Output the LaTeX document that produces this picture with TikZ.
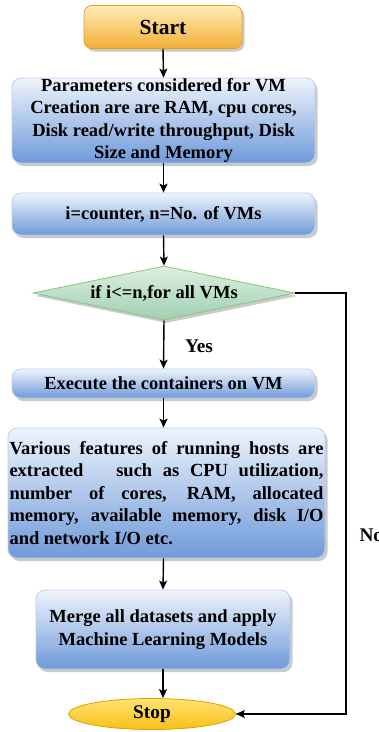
\documentclass[tikz,border=0pt]{standalone}
\usepackage{fontspec}
\setmainfont{Liberation Serif}
\usetikzlibrary{shapes.geometric,shadows,arrows.meta}
\definecolor{bluetop}{HTML}{EEF4FC}
\definecolor{bluemid}{HTML}{B3CBEE}
\definecolor{bluebot}{HTML}{6F9AD9}
\definecolor{blueedge}{HTML}{B9CFEE}
\definecolor{orgtop}{HTML}{FFEDB8}
\definecolor{orgmid}{HTML}{FBCB6A}
\definecolor{orgbot}{HTML}{F4AE35}
\definecolor{orgedge}{HTML}{E49D2A}
\definecolor{grtop}{HTML}{DDF0DE}
\definecolor{grbot}{HTML}{9FCFB4}
\definecolor{gredge}{HTML}{8CC474}
\definecolor{ylwtop}{HTML}{FFE36E}
\definecolor{ylwbot}{HTML}{F6C01A}
\definecolor{ylwedge}{HTML}{D9A300}
\begin{document}
\begin{tikzpicture}[x=1pt,y=-1pt,
  txt/.style={font=\bfseries\fontsize{18.5}{22.6}\selectfont},
  shad/.style={drop shadow={shadow xshift=2.5pt,shadow yshift=-3pt,opacity=0.35,fill=black!60}},
  box/.style={rectangle, rounded corners=9pt, draw=blueedge, line width=0.8pt,
    top color=bluetop, middle color=bluemid, bottom color=bluebot, shad,
    txt, align=center, inner sep=0pt},
  startbox/.style={rectangle, rounded corners=8pt, draw=orgedge, line width=0.8pt,
    top color=orgtop, middle color=orgmid, bottom color=orgbot, shad,
    font=\bfseries\fontsize{21.5}{24}\selectfont, inner sep=0pt},
  dia/.style={diamond, draw=gredge, line width=0.8pt, top color=grtop, bottom color=grbot,
    shad, inner sep=0pt},
  stopell/.style={ellipse, draw=ylwedge, line width=0.8pt, top color=ylwtop, bottom color=ylwbot,
    font=\bfseries\fontsize{19.3}{22}\selectfont, inner sep=0pt},
  arr/.style={-{Stealth[length=9pt,width=8pt,inset=2pt]}, line width=1.4pt, black},
]
\useasboundingbox (0,0) rectangle (379,732);

\node[startbox, minimum width=158pt, minimum height=43pt] (start) at (163,27) {Start};

\node[box, minimum width=303pt, minimum height=85pt] (params) at (163.5,120.5)
  {Parameters considered for VM\\Creation are are RAM, cpu cores,\\Disk read/write throughput, Disk\\Size and Memory};

\node[box, minimum width=303pt, minimum height=42pt] (counter) at (163.5,214)
  {i=counter, n=No. of VMs};

\node[dia, minimum width=262pt, minimum height=54pt] (cond) at (164,293) {};
\node[txt] (condtxt) at (cond) {if i<=n,for all VMs};

\node[txt, font=\bfseries\fontsize{19.3}{22}\selectfont] (yes) at (199,346) {Yes};

\node[box, minimum width=303pt, minimum height=29pt] (exec) at (163.5,383.5)
  {Execute the containers on VM};

\node[box, minimum width=317pt, minimum height=130pt, align=left] (feat) at (166.5,493)
  {\makebox[314pt][s]{Various features of running hosts are}\\
   \makebox[314pt][s]{extracted\hspace{1.2em} such as CPU utilization,}\\
   \makebox[314pt][s]{number of cores, RAM, allocated}\\
   \makebox[314pt][s]{memory, available memory, disk I/O}\\
   and network I/O etc.};

\node[box, minimum width=254pt, minimum height=79pt] (merge) at (163,629.5)
  {Merge all datasets and apply\\Machine Learning Models};

\node[stopell, minimum width=167pt, minimum height=31pt] (stop) at (152,714) {Stop};

\node[txt, anchor=west, font=\bfseries\fontsize{19.3}{22}\selectfont] (no) at (356,535) {No};

\coordinate (nox) at (346,0);

\draw[arr] (start.south) -- (params.north);
\draw[arr] (params.south) -- (counter.north);
\draw[arr] (counter.south) -- (cond.north);
\draw[arr] (cond.south) -- (exec.north);
\draw[arr] (exec.south) -- (exec.south |- feat.north);
\draw[arr] (feat.south -| exec.south) -- (merge.north);
\draw[arr] (merge.south) -- (merge.south |- stop.north);

\draw[black!25, line width=1.2pt, shift={(2pt,-2pt)}] (cond.east) -- (cond.east -| nox) |- (stop.east);
\draw[arr, line width=1.1pt] (cond.east) -- (cond.east -| nox) |- (stop.east);
\end{tikzpicture}
\end{document}
